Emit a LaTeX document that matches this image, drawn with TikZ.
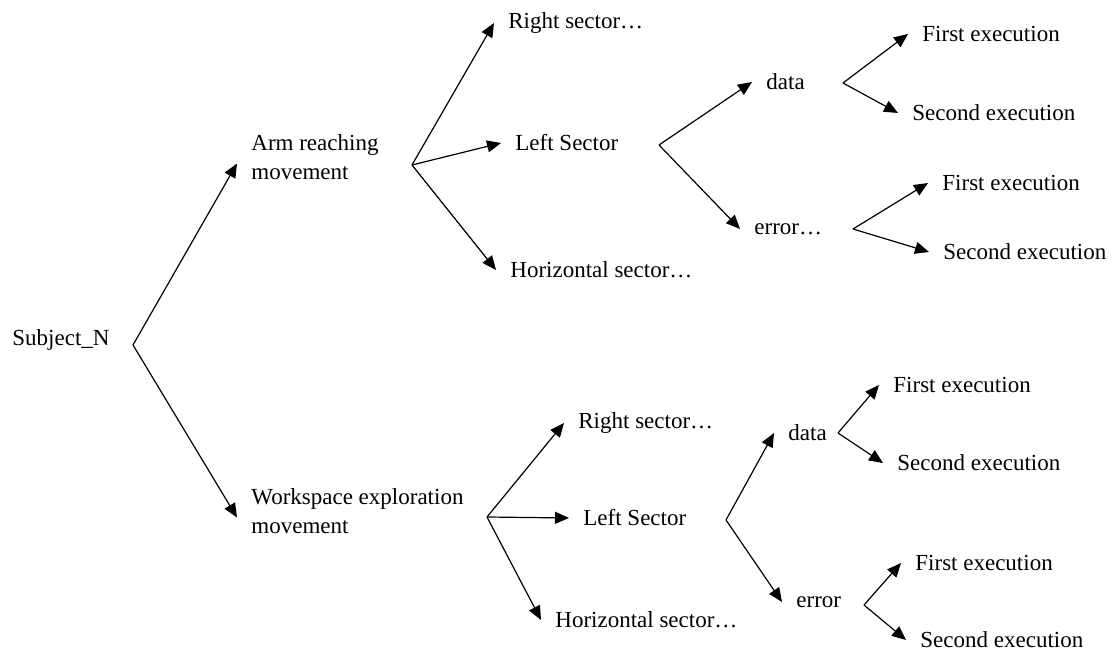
\documentclass[tikz,border=0pt]{standalone}
\usepackage{fontspec}
\setmainfont{Liberation Serif}
\usetikzlibrary{arrows.meta}

\begin{document}
\begin{tikzpicture}[x=0.5pt, y=-0.5pt,
    lbl/.style={anchor=west, inner sep=2pt, align=left, font=\fontsize{11.5}{14.5}\selectfont},
    link/.style={-{Triangle[length=7pt,width=6pt]}, line width=0.6pt}]
  \useasboundingbox (0,0) rectangle (1113,651);
  % Root and movements
  \node[lbl] (subj) at (8,340) {Subject\_N};
  \node[lbl] (arm) at (247,157.5) {Arm reaching\\movement};
  \node[lbl] (ws) at (247,511.5) {Workspace exploration\\movement};
  % Upper tree
  \node[lbl] (r1) at (504,23) {Right sector…};
  \node[lbl] (l1) at (511,143) {Left Sector};
  \node[lbl] (h1) at (506,270) {Horizontal sector…};
  \node[lbl] (d1) at (762,82) {data};
  \node[lbl] (e1) at (750,229) {error…};
  \node[lbl] (f1) at (918,34) {First execution};
  \node[lbl] (s1) at (908,113) {Second execution};
  \node[lbl] (f2) at (938,183) {First execution};
  \node[lbl] (s2) at (939,252) {Second execution};
  % Lower tree
  \node[lbl] (r2) at (574,423) {Right sector…};
  \node[lbl] (l2) at (579,518) {Left Sector};
  \node[lbl] (h2) at (551,620) {Horizontal sector…};
  \node[lbl] (d2) at (784,433) {data};
  \node[lbl] (e2) at (792,602) {error};
  \node[lbl] (f3) at (889,385) {First execution};
  \node[lbl] (s3) at (893,463) {Second execution};
  \node[lbl] (f4) at (911,563) {First execution};
  \node[lbl] (s4) at (916,640) {Second execution};
  % Fork points
  \coordinate (k0) at (133,345);
  \coordinate (ka) at (412,165);
  \coordinate (kl1) at (659,145);
  \coordinate (kd1) at (843,83);
  \coordinate (ke1) at (853,229);
  \coordinate (kw) at (487,517);
  \coordinate (kl2) at (726,520);
  \coordinate (kd2) at (838,433);
  \coordinate (ke2) at (864,605);
  % Branches
  \foreach \a/\b/\d in {k0/arm/-3pt, k0/ws/-3pt,
      ka/r1/0pt, ka/l1/0pt, ka/h1/0pt, kl1/d1/0pt, kl1/e1/0pt,
      kd1/f1/0pt, kd1/s1/0pt, ke1/f2/0pt, ke1/s2/0pt,
      kw/r2/0pt, kw/l2/0pt, kw/h2/0pt, kl2/d2/0pt, kl2/e2/0pt,
      kd2/f3/0pt, kd2/s3/0pt, ke2/f4/0pt, ke2/s4/0pt}
    \draw[link] (\a) -- ([xshift=-5pt,yshift=\d]\b.west);
\end{tikzpicture}
\end{document}
